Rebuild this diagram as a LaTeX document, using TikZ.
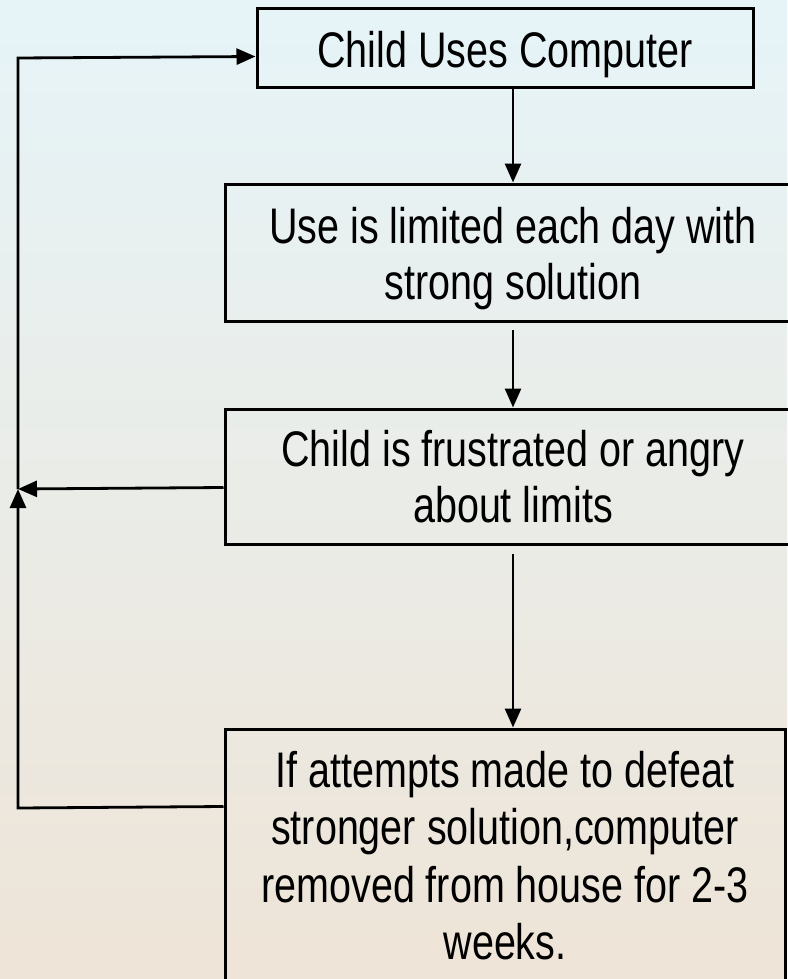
\documentclass[tikz,border=0pt]{standalone}
\usepackage{fontspec}
\setmainfont{Liberation Sans}[FakeStretch=0.79]
\usetikzlibrary{arrows.meta,calc}

\definecolor{skytop}{HTML}{E6F4F8}
\definecolor{skymid}{HTML}{F5F7F4}
\definecolor{sandlow}{HTML}{EEE4D7}

% invisible struts to set the vertical placement of a text block
\newcommand\tallstrut{\rule{0pt}{47.5pt}}
\newcommand\deepstrut{\rule[-12.5pt]{0pt}{0pt}}

\tikzset{
  flowbox/.style={draw=black, line width=3pt, align=center, inner sep=0pt,
    font=\fontsize{50}{56}\selectfont},
  flowarrow/.style={draw=black, line width=2.8pt, line join=miter,
    -{Triangle[length=19pt,width=16pt]}},
}

\begin{document}
\begin{tikzpicture}[x=1pt,y=-1pt]
  % page and background
  \useasboundingbox (0,0) rectangle (787,979);
  \shade[top color=skytop, middle color=skymid, bottom color=sandlow]
    (0,0) rectangle (787,979);

  % boxes
  \node[flowbox, minimum width=496pt, minimum height=79pt] (box1) at (505,48.5)
    {\tallstrut Child Uses Computer};
  \node[flowbox, minimum width=576pt, minimum height=137pt] (box2) at (513,252.5)
    {\tallstrut Use is limited each day with\\strong solution};
  \node[flowbox, minimum width=576pt, minimum height=135pt] (box3) at (513,476.5)
    {Child is frustrated or angry\\about limits};
  \node[flowbox, font=\fontsize{50}{57.5}\selectfont,
        minimum width=560pt, minimum height=265pt] (box4) at (505,861.5)
    {If attempts made to defeat\\stronger solution,computer\\removed from house for 2-3\\weeks.\deepstrut};

  % main flow
  \draw[flowarrow] (box1.south -| box2.north) -- (box2.north);
  \draw[flowarrow] ($(box2.south)+(0,7)$) -- (box3.north);
  \draw[flowarrow] ($(box3.south)+(0,8)$) -- (box4.north -| box3.south);

  % feedback loop on the left
  \coordinate (c4) at (18,808);
  \coordinate (c3) at (18,489);
  \coordinate (c1) at (18,58);
  \draw[flowarrow] ($(box4.north west)+(0,79)$) -- (c4) -- (c3);
  \draw[flowarrow] ($(box3.north west)+(0,80)$) -- (c3);
  \draw[flowarrow] (c3) -- (c1) -- ($(box1.north west)+(0,49)$);
\end{tikzpicture}
\end{document}
